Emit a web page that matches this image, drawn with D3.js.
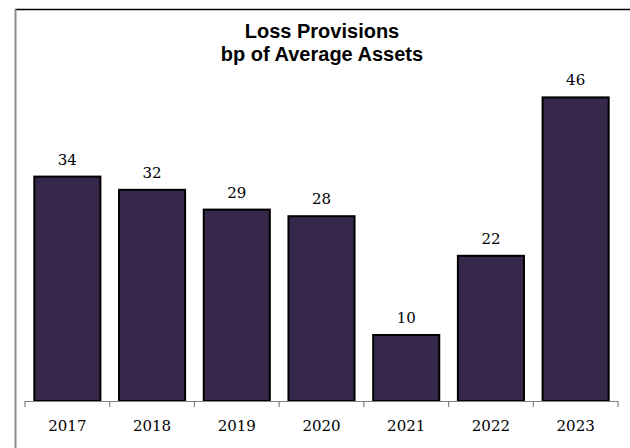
<!DOCTYPE html>
<html>
<head>
<meta charset="utf-8">
<script src="https://cdn.jsdelivr.net/npm/d3@7"></script>
<style>
  html, body { margin: 0; padding: 0; background: #fff; }
  svg { display: block; }
</style>
</head>
<body>
<svg id="chart" width="630" height="448"></svg>
<script>
// Loss provisions, basis points of average assets
const years = ["2017", "2018", "2019", "2020", "2021", "2022", "2023"];
const provisions = [34, 32, 29, 28, 10, 22, 46];
const titleLines = ["Loss Provisions", "bp of Average Assets"];

const svg = d3.select("#chart");
const W = 630, H = 448;
const plot = { left: 25, right: 618, base: 401, top: 71 };

const x = d3.scaleBand()
  .domain(years)
  .range([plot.left, plot.right])
  .paddingInner(0.22)
  .paddingOuter(0.11);

const y = d3.scaleLinear()
  .domain([0, 50])
  .range([plot.base, plot.top]);

// frame: dark top rule, grey left rule
svg.append("line")
  .attr("x1", 15).attr("x2", W).attr("y1", 9.5).attr("y2", 9.5)
  .attr("stroke", "#000").attr("stroke-width", 1.5);
svg.append("line")
  .attr("x1", 15.5).attr("x2", 15.5).attr("y1", 9).attr("y2", H)
  .attr("stroke", "#8c8c8c").attr("stroke-width", 2);

// title
const title = svg.append("text")
  .attr("text-anchor", "middle")
  .attr("font-family", "Liberation Sans, Arial, sans-serif")
  .attr("font-weight", "bold")
  .attr("font-size", 20)
  .attr("fill", "#000");
titleLines.forEach((t, i) => {
  title.append("tspan").attr("x", 322).attr("y", 38 + i * 23).text(t);
});

// bars
svg.append("g").selectAll("rect")
  .data(provisions)
  .join("rect")
  .attr("x", (d, i) => x(years[i]))
  .attr("y", d => y(d))
  .attr("width", x.bandwidth())
  .attr("height", d => y(0) - y(d))
  .attr("fill", "#35284a")
  .attr("stroke", "#000")
  .attr("stroke-width", 2);

// value labels
svg.append("g").selectAll("text")
  .data(provisions)
  .join("text")
  .attr("x", (d, i) => x(years[i]) + x.bandwidth() / 2)
  .attr("y", d => y(d) - 12)
  .attr("text-anchor", "middle")
  .attr("font-family", "DejaVu Serif, Georgia, serif")
  .attr("font-size", 15)
  .attr("fill", "#000")
  .text(d => d);

// category axis with boundary ticks
const axisG = svg.append("g").attr("transform", `translate(0,${plot.base})`);
const step = x.step();
const boundaries = d3.range(years.length + 1).map(i => plot.left + i * (plot.right - plot.left) / years.length);
axisG.append("line")
  .attr("x1", plot.left).attr("x2", plot.right).attr("y1", 0.5).attr("y2", 0.5)
  .attr("stroke", "#808080").attr("stroke-width", 1.2);
axisG.selectAll("line.tick")
  .data(boundaries)
  .join("line")
  .attr("class", "tick")
  .attr("x1", d => d).attr("x2", d => d)
  .attr("y1", 0).attr("y2", 6)
  .attr("stroke", "#808080").attr("stroke-width", 1.2);
axisG.selectAll("text")
  .data(years)
  .join("text")
  .attr("x", d => x(d) + x.bandwidth() / 2)
  .attr("y", 30)
  .attr("text-anchor", "middle")
  .attr("font-family", "DejaVu Serif, Georgia, serif")
  .attr("font-size", 15)
  .attr("fill", "#000")
  .text(d => d);
</script>
</body>
</html>
